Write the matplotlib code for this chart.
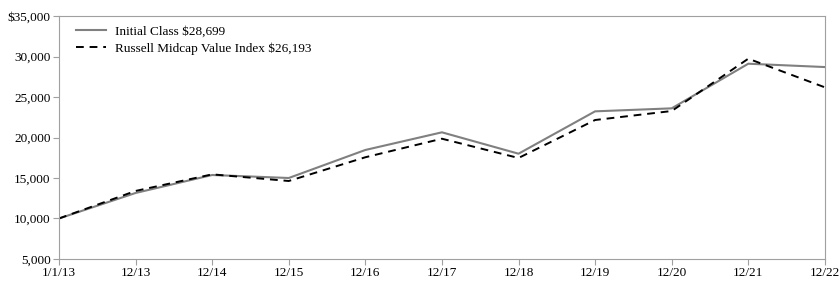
import matplotlib
matplotlib.use('Agg')
import matplotlib.pyplot as plt

# growth of $10,000
dates = ['1/1/13', '12/13', '12/14', '12/15', '12/16', '12/17',
         '12/18', '12/19', '12/20', '12/21', '12/22']
initial_class = [10000, 13150, 15370, 15000, 18460, 20640,
                 18000, 23230, 23600, 29110, 28699]
midcap_value = [10000, 13400, 15450, 14630, 17560, 19850,
                17470, 22160, 23270, 29730, 26193]
yticks = [5000, 10000, 15000, 20000, 25000, 30000, 35000]

plt.rcParams['font.family'] = 'Liberation Serif'
plt.rcParams['font.size'] = 9.5

fig = plt.figure(figsize=(8.4, 2.87), dpi=100)
ax = fig.add_axes([0.0702, 0.0976, 0.9118, 0.8466])
x = range(len(dates))
ax.plot(x, initial_class, color='#808080', lw=1.5, label='Initial Class $28,699')
ax.plot(x, midcap_value, color='black', lw=1.4, ls=(0, (4, 3)),
        label='Russell Midcap Value Index $26,193')

ax.set_xlim(0, len(dates) - 1)
ax.set_ylim(5000, 35000)
ax.set_xticks(list(x))
ax.set_xticklabels(dates)
ax.set_yticks(yticks)
ax.set_yticklabels([f'${v:,}' if v == yticks[-1] else f'{v:,}' for v in yticks])
for s in ax.spines.values():
    s.set_color('#a0a0a0')
ax.tick_params(colors='#a0a0a0', labelcolor='black', length=4, width=0.8, pad=2)

ax.legend(loc='upper left', frameon=False, handlelength=2.3, handletextpad=0.7,
          borderaxespad=0.3, labelspacing=0.35, bbox_to_anchor=(0.01, 1.0))

fig.savefig('out.png', dpi=100)
